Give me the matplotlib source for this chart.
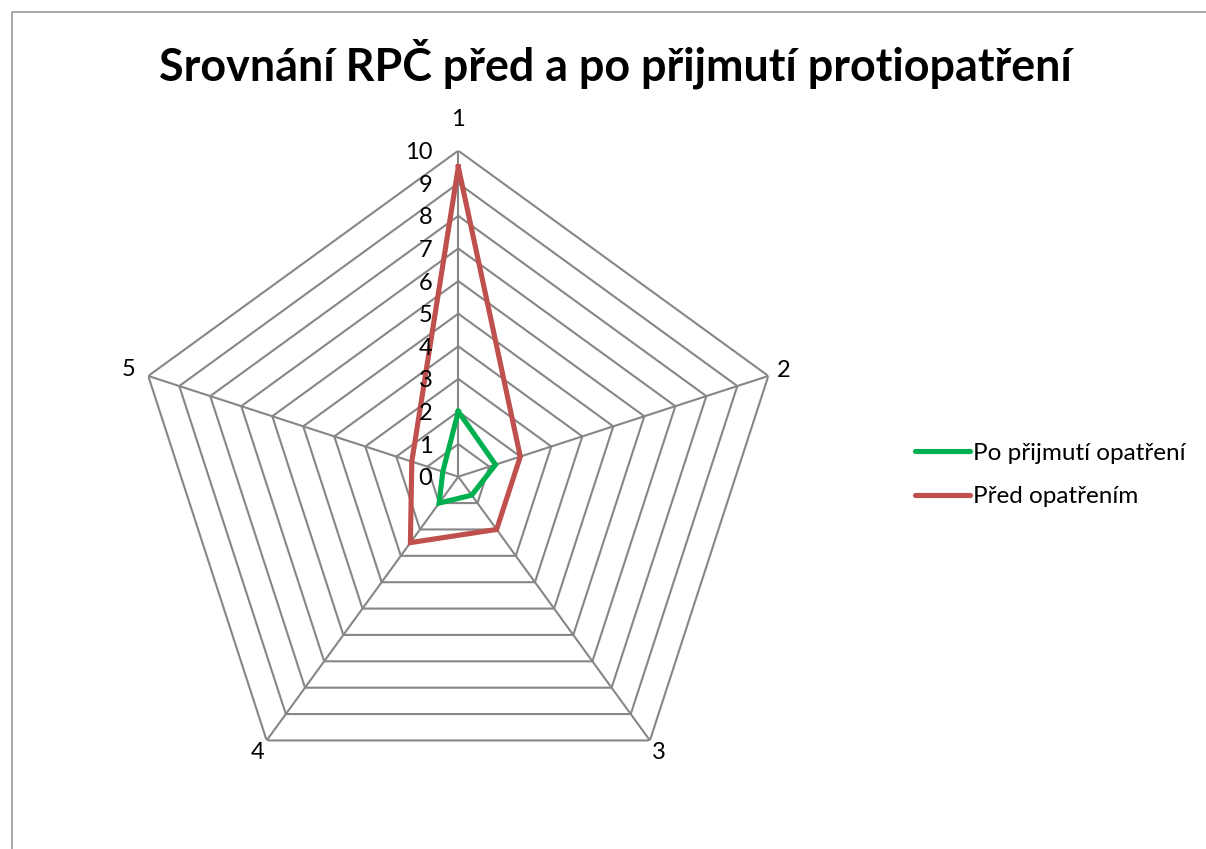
import numpy as np
import matplotlib
matplotlib.use("Agg")
import matplotlib.pyplot as plt
from matplotlib.patches import Rectangle
from matplotlib.lines import Line2D

plt.rcParams['font.family'] = ['Lato', 'DejaVu Sans']

title = "Srovnání RPČ před a po přijmutí protiopatření"
categories = ["1", "2", "3", "4", "5"]
series_names = ["Po přijmutí opatření", "Před opatřením"]
after_values = [2.0, 1.2, 0.7, 1.0, 0.5]
before_values = [9.5, 2.0, 2.0, 2.5, 1.5]
ring_values = list(range(0, 11))
colors = ["#00B050", "#C0504D"]
grid_color = "#868686"

W, H = 1206, 849
fig = plt.figure(figsize=(W / 100, H / 100), dpi=100)

# chart frame
fig.patches.append(Rectangle((12 / W, -0.1), 1.2, (H - 12) / H + 0.1, transform=fig.transFigure,
                             fill=False, edgecolor="#9a9a9a", linewidth=1.2))

fig.text(615 / W, 1 - 64 / H, title, ha="center", va="center", fontsize=32.3, fontweight="bold")

cx, cy, R = 458.3, 476.7, 326.0
ax = fig.add_axes([(cx - R) / W, (H - cy - R) / H, 2 * R / W, 2 * R / H], projection="polar")
ax.set_theta_offset(np.pi / 2)
ax.set_theta_direction(-1)
ax.set_ylim(0, 10)
ax.grid(False)
ax.spines["polar"].set_visible(False)
ax.set_xticks([])
ax.set_yticks([])
ax.patch.set_alpha(0)

n = len(categories)
angles = np.linspace(0, 2 * np.pi, n, endpoint=False)
closed = np.concatenate([angles, angles[:1]])

for r in ring_values[1:]:
    ax.plot(closed, [r] * (n + 1), color=grid_color, lw=1.5, zorder=1)
for a in angles:
    ax.plot([a, a], [0, ring_values[-1]], color=grid_color, lw=1.5, zorder=1)

for vals, col in zip([after_values, before_values], colors):
    v = np.concatenate([vals, vals[:1]])
    ax.plot(closed, v, color=col, lw=3.7, zorder=3, solid_joinstyle="miter")

label_r = [10.95, 10.5, 10.45, 10.45, 10.65]
for a, lab, lr in zip(angles, categories, label_r):
    ax.text(a, lr, lab, ha="center", va="center", fontsize=17)

for r in ring_values:
    ax.annotate(str(r), xy=(0, r), xytext=(-26, -2), textcoords="offset pixels",
                ha="right", va="center", fontsize=17)

handles = [Line2D([], [], color=c, lw=3.7, solid_capstyle="round") for c in colors]
fig.legend(handles, series_names, loc="center left", bbox_to_anchor=(915 / W, 1 - 475 / H),
           frameon=False, fontsize=17.5, handlelength=2.27, handletextpad=0.12, labelspacing=0.92,
           borderaxespad=0, borderpad=0)

fig.savefig("out.png", dpi=100)
